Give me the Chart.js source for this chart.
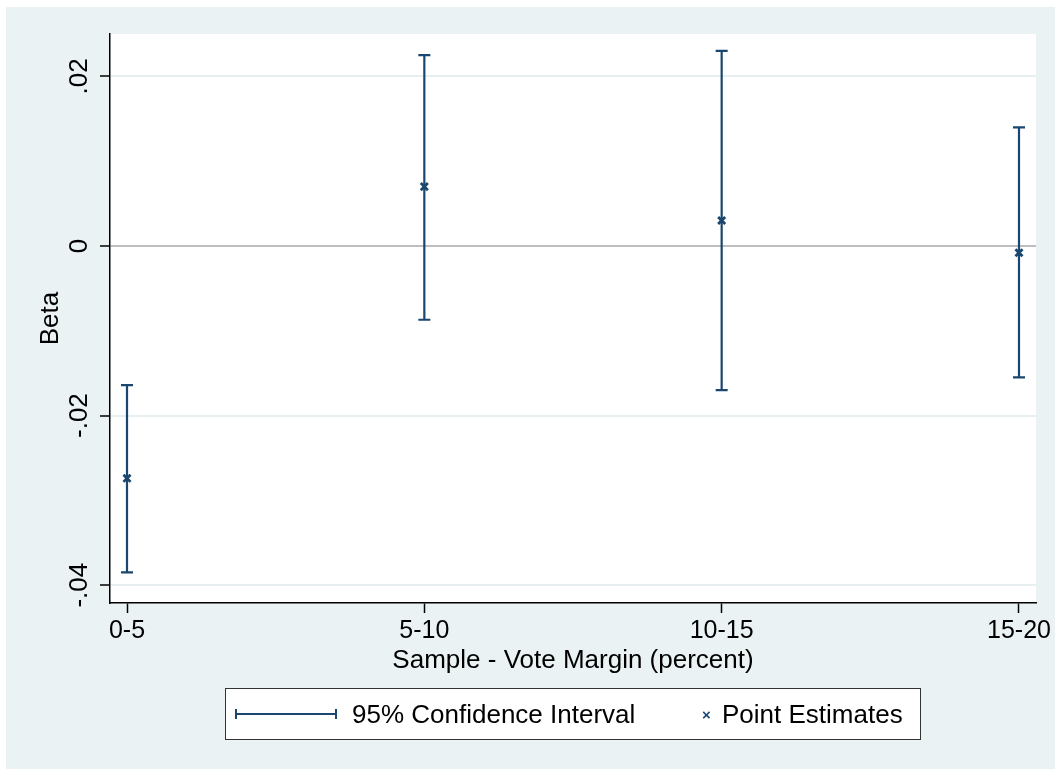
<!DOCTYPE html>
<html>
<head>
<meta charset="utf-8">
<script src="https://cdn.jsdelivr.net/npm/chart.js@4.4.0/dist/chart.umd.min.js"></script>
<style>
  html, body { margin: 0; padding: 0; background: #fff; }
  #wrap { position: relative; width: 1055px; height: 769px; overflow: hidden; }
  #panel { position: absolute; left: 6px; top: 7px; width: 1049px; height: 762px; background: #EAF2F3; }
  #cv { position: absolute; left: 0; top: 0; }
  #legend {
    position: absolute; left: 225px; top: 688px; width: 694px; height: 50px;
    border: 1px solid #333; background: #fff;
    font: 26px 'Liberation Sans', Arial, sans-serif; color: #000;
  }
  #legend .txt { position: absolute; top: 0; line-height: 50px; white-space: nowrap; }
  #legend .ci { position: absolute; left: 9px; top: 20px; width: 98px; height: 10px;
    border-left: 2px solid #1A476F; border-right: 2px solid #1A476F; }
  #legend .ci::after { content: ''; position: absolute; left: 0; right: 0; top: 4px; height: 2px; background: #1A476F; }
  #legend .mk { position: absolute; left: 476px; top: 0; font: bold 15px 'Liberation Sans', Arial, sans-serif; line-height: 52px; color: #1A476F; }
</style>
</head>
<body>
<div id="wrap">
  <div id="panel"></div>
  <canvas id="cv" width="1055" height="769"></canvas>
  <div id="legend">
    <div class="ci"></div>
    <div class="txt" style="left:126px">95% Confidence Interval</div>
    <div class="mk">×</div>
    <div class="txt" style="left:496px">Point Estimates</div>
  </div>
</div>
<script>
// data
const categories = ['0-5', '5-10', '10-15', '15-20'];
const xPos = [0, 1, 2, 3];
const pointEst = [-0.0274, 0.0070, 0.0030, -0.0008];
const ciLow = [-0.0385, -0.0087, -0.0170, -0.0155];
const ciHigh = [-0.0164, 0.0225, 0.0230, 0.0140];
const yTicks = [-0.04, -0.02, 0, 0.02];
const yTickLabels = ['-.04', '-.02', '0', '.02'];

const NAVY = '#1A476F';
const FONT = "'Liberation Sans', Arial, sans-serif";

// white plot region, CI bars, and Stata-style text
const stataPlugin = {
  id: 'stata',
  beforeDraw(chart) {
    const { ctx, chartArea: a } = chart;
    ctx.save();
    ctx.fillStyle = '#fff';
    ctx.fillRect(a.left, a.top, a.right - a.left, a.bottom - a.top);
    ctx.restore();
  },
  beforeDatasetsDraw(chart) {
    const { ctx, scales: { x, y } } = chart;
    ctx.save();
    ctx.strokeStyle = NAVY;
    ctx.lineWidth = 2.2;
    xPos.forEach((v, i) => {
      const px = x.getPixelForValue(v);
      const lo = y.getPixelForValue(ciLow[i]);
      const hi = y.getPixelForValue(ciHigh[i]);
      ctx.beginPath();
      ctx.moveTo(px, lo); ctx.lineTo(px, hi);
      ctx.moveTo(px - 6, lo); ctx.lineTo(px + 6, lo);
      ctx.moveTo(px - 6, hi); ctx.lineTo(px + 6, hi);
      ctx.stroke();
    });
    ctx.restore();
  },
  afterDraw(chart) {
    const { ctx, scales: { x, y }, chartArea: a } = chart;
    ctx.save();
    ctx.fillStyle = '#000';

    // y tick labels, rotated
    ctx.font = '26px ' + FONT;
    ctx.textAlign = 'center';
    ctx.textBaseline = 'alphabetic';
    yTicks.forEach((v, i) => {
      ctx.save();
      ctx.translate(87, y.getPixelForValue(v));
      ctx.rotate(-Math.PI / 2);
      ctx.fillText(yTickLabels[i], 0, 0);
      ctx.restore();
    });

    // y title
    ctx.save();
    ctx.translate(58, (a.top + a.bottom) / 2);
    ctx.rotate(-Math.PI / 2);
    ctx.fillText('Beta', 0, 0);
    ctx.restore();

    // x tick labels
    ctx.font = '25px ' + FONT;
    xPos.forEach((v, i) => {
      ctx.fillText(categories[i], x.getPixelForValue(v), 638);
    });

    // x title
    ctx.font = '26px ' + FONT;
    ctx.fillText('Sample - Vote Margin (percent)', (a.left + a.right) / 2, 668);
    ctx.restore();
  }
};

new Chart(document.getElementById('cv'), {
  type: 'scatter',
  data: {
    datasets: [{
      label: 'Point Estimates',
      data: xPos.map((v, i) => ({ x: v, y: pointEst[i] })),
      pointStyle: 'crossRot',
      pointRadius: 5,
      pointBorderWidth: 2.8,
      borderColor: NAVY,
      backgroundColor: NAVY,
      showLine: false
    }]
  },
  options: {
    responsive: false,
    animation: false,
    devicePixelRatio: 1,
    layout: { padding: { top: 34, right: 19, left: 0, bottom: 0 } },
    plugins: { legend: { display: false }, tooltip: { enabled: false } },
    scales: {
      x: {
        type: 'linear',
        min: -0.0572,
        max: 3.0572,
        afterBuildTicks: s => { s.ticks = xPos.map(v => ({ value: v })); },
        afterFit: s => { s.height = 166; s.paddingLeft = 0; s.paddingRight = 0; },
        ticks: { display: false },
        grid: { drawOnChartArea: false, drawTicks: true, tickLength: 10, tickColor: '#000', tickWidth: 1.5 },
        border: { display: true, color: '#000', width: 1.5 }
      },
      y: {
        min: -0.0421,
        max: 0.025,
        afterBuildTicks: s => { s.ticks = yTicks.map(v => ({ value: v })); },
        afterFit: s => { s.width = 110; s.paddingTop = 0; s.paddingBottom = 0; },
        ticks: { display: false },
        grid: {
          color: c => (c.tick && c.tick.value === 0) ? '#BEBEBE' : '#E7EFF1',
          lineWidth: 2,
          drawTicks: true, tickLength: 10, tickColor: '#000', tickWidth: 1.5
        },
        border: { display: true, color: '#000', width: 1.5 }
      }
    }
  },
  plugins: [stataPlugin]
});
</script>
</body>
</html>
